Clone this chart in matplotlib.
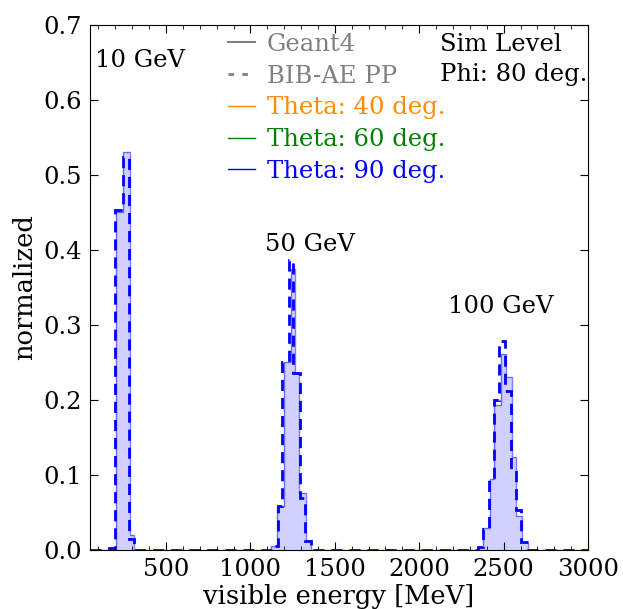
import numpy as np
import matplotlib
matplotlib.use("Agg")
import matplotlib.pyplot as plt
from matplotlib.lines import Line2D
from matplotlib.ticker import MultipleLocator

plt.rcParams['font.family'] = ['DejaVu Serif']
plt.rcParams['mathtext.fontset'] = 'dejavuserif'

# visible energy bin edges [MeV] and normalized counts, theta = 90 deg
g4_edges = [50, 160, 205, 245, 284, 308,
            1120, 1158, 1198, 1238, 1263, 1290, 1330, 1360,
            2345, 2380, 2419, 2443, 2483, 2512, 2548, 2575, 2610, 2643, 3000]
g4_vals = [0.0, 0.003, 0.450, 0.531, 0.020,
           0.0, 0.005, 0.059, 0.250, 0.374, 0.236, 0.076, 0.012,
           0.0, 0.004, 0.029, 0.094, 0.193, 0.261, 0.231, 0.124, 0.045, 0.011, 0.0]

pp_edges = [50, 160, 200, 245, 278, 308,
            1130, 1164, 1188, 1227, 1253, 1292, 1326, 1360,
            2345, 2380, 2413, 2443, 2472, 2508, 2545, 2570, 2605, 2643, 3000]
pp_vals = [0.0, 0.003, 0.453, 0.524, 0.015,
           0.0, 0.005, 0.059, 0.250, 0.386, 0.236, 0.069, 0.012,
           0.0, 0.004, 0.028, 0.093, 0.200, 0.278, 0.212, 0.107, 0.053, 0.011, 0.0]

peak_labels = ["10 GeV", "50 GeV", "100 GeV"]
peak_pos = [(80, 0.653), (1087, 0.407), (2171, 0.324)]

theta_labels = ["Theta: 40 deg.", "Theta: 60 deg.", "Theta: 90 deg."]
theta_colors = ["darkorange", "green", "blue"]

fig = plt.figure(figsize=(6.23, 6.09), dpi=100)
ax = fig.add_axes([0.1445, 0.097, 0.7995, 0.862])

ax.stairs(g4_vals, g4_edges, fill=True, color="blue", alpha=0.18, lw=0)
ax.stairs(g4_vals, g4_edges, color="blue", alpha=0.5, lw=1.0)
ax.stairs(pp_vals, pp_edges, color="blue", lw=2.0, linestyle=(0, (4, 2.5)))

for lab, (x, y) in zip(peak_labels, peak_pos):
    ax.text(x, y, lab, fontsize=17.5, va="center")

ax.text(0.703, 0.962, "Sim Level", transform=ax.transAxes, fontsize=17.5, va="center")
ax.text(0.703, 0.905, "Phi: 80 deg.", transform=ax.transAxes, fontsize=17.5, va="center")

handles = [Line2D([], [], color="gray", lw=1.5),
           Line2D([], [], color="gray", lw=2, linestyle=(0, (2, 3)))]
labels = ["Geant4", "BIB-AE PP"]
for lab, c in zip(theta_labels, theta_colors):
    handles.append(Line2D([], [], color=c, lw=1))
    labels.append(lab)
leg = ax.legend(handles, labels, loc="upper left", bbox_to_anchor=(0.277, 0.985),
                frameon=False, fontsize=17.5, handlelength=1.1, handletextpad=0.5,
                labelspacing=0.36, borderpad=0, borderaxespad=0)
for txt, c in zip(leg.get_texts(), ["gray", "gray"] + theta_colors):
    txt.set_color(c)

ax.set_xlim(50, 3000)
ax.set_ylim(0, 0.7)
ax.xaxis.set_major_locator(MultipleLocator(500))
ax.xaxis.set_minor_locator(MultipleLocator(100))
ax.yaxis.set_major_locator(MultipleLocator(0.1))
ax.tick_params(which="both", direction="in", top=True, right=True, labelsize=17.5)
ax.tick_params(which="major", length=6, pad=6)
ax.tick_params(which="minor", length=3)
ax.set_xlabel("visible energy [MeV]", fontsize=18.5, labelpad=2)
ax.set_ylabel("normalized", fontsize=18.5, labelpad=4)

fig.savefig("out.png", dpi=100)
